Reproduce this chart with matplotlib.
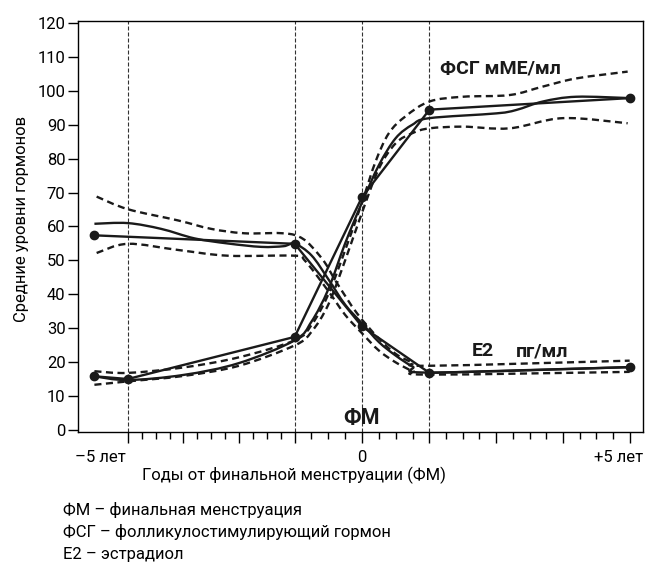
import numpy as np
import matplotlib
matplotlib.use('Agg')
import matplotlib.pyplot as plt
from matplotlib.path import Path
from matplotlib.patches import PathPatch
from matplotlib.transforms import ScaledTranslation

plt.rcParams['font.family'] = ['Roboto', 'DejaVu Sans']

# годы от ФМ; ось нелинейная, как в оригинале
knots_yr = [-10, -5, -2, 0, 2, 5, 10]
knots_pos = [-150.3, 127.7, 294.5, 361.7, 429.2, 629.3, 962.8]

def fwd(x):
    return np.interp(x, knots_yr, knots_pos)

def inv(p):
    return np.interp(p, knots_pos, knots_yr)

# ФСГ (мМЕ/мл)
fsh_pts_x = [-5.6, -5, -2, 0, 2, 5]
fsh_pts_y = [15.9, 15.1, 27.5, 68.6, 94.4, 97.8]
fsh_smooth_x = [-5.6, -5, -4, -3, -2, -1.5, -1, -0.5, 0, 0.5, 1, 1.5, 2, 3, 3.3, 3.7, 4.2, 5]
fsh_smooth_y = [15.9, 14.8, 16.3, 19.8, 26.5, 32, 41.5, 55, 67, 78, 86, 90, 91.9, 93.3, 94.3, 96.8, 98.2, 97.8]
fsh_hi_x = [-5.6, -5, -4, -3, -2, -1.5, -1, -0.5, 0, 0.4, 0.8, 1.3, 2, 2.5, 3.2, 3.7, 4.2, 4.97]
fsh_hi_y = [17.4, 16.9, 18.5, 21.5, 26.5, 31, 40, 53, 67, 79, 87.5, 92.5, 96.8, 98.2, 98.7, 101.2, 103.6, 105.6]
fsh_lo_x = [-5.6, -5, -4, -3, -2, -1.5, -1, -0.5, 0, 0.5, 1.0, 1.5, 2, 2.5, 3.2, 4.0, 4.97]
fsh_lo_y = [13.4, 14.4, 16, 19, 25, 29, 37, 50, 64, 77, 84.5, 87.5, 88.9, 89.4, 88.9, 91.9, 90.4]

# E2 (пг/мл)
e2_pts_x = [-5.6, -2, 0, 2, 5]
e2_pts_y = [57.4, 54.9, 30.6, 16.9, 18.6]
e2_smooth_x = [-5.6, -5, -4.4, -3.8, -3.2, -2.6, -2.2, -2, -1.5, -1, -0.5, 0, 0.5, 1, 1.5, 2, 5]
e2_smooth_y = [60.8, 61, 59.3, 56.5, 55.0, 54.0, 54.2, 54.9, 51.5, 44.5, 37, 31.5, 26, 22, 18.8, 17.0, 18.6]
e2_hi_x = [-5.56, -5, -4.1, -3.5, -2.9, -2, -1.24, -0.74, -0.15, 0.5, 1, 1.5, 2, 5]
e2_hi_y = [68.8, 65.1, 61.8, 59.3, 58, 57.5, 51.2, 43.3, 34.5, 27, 22.5, 20, 19.0, 20.5]
e2_lo_x = [-5.56, -5, -4.1, -3.2, -2, -1.7, -1, -0.5, 0, 0.5, 1, 1.5, 2, 5]
e2_lo_y = [52.2, 54.9, 53.1, 51.4, 51.4, 50, 41, 34, 28.6, 23.5, 20, 17.5, 16.4, 17.2]

vlines_x = [-5, -2, 0, 2]
yticks = list(range(0, 121, 10))
major_x = [-5, -4, -3, -2, 0, 2, 3, 4, 5]
minor_x = sorted(set(np.r_[np.arange(-5, -2, 0.25), np.arange(-2, 2, 0.5), np.arange(2, 5.01, 0.25)]) - set(major_x))
xtick_pos = [-5, 0, 5]
xtick_lbl = ['–5 лет', '0', '+5 лет']
xtick_shift = [-27, 0, -11]  # px

notes = ['ФМ – финальная менструация',
         'ФСГ – фолликулостимулирующий гормон',
         'E2 – эстрадиол']


def smooth_curve(ax, xs, ys, **kw):
    # сглаженная кривая (Catmull-Rom -> Безье) в координатах шкалы
    p = np.column_stack([fwd(np.asarray(xs, float)), np.asarray(ys, float)])
    ext = np.vstack([p[0], p, p[-1]])
    verts = [p[0]]
    codes = [Path.MOVETO]
    for i in range(len(p) - 1):
        p0, p1, p2, p3 = ext[i], ext[i + 1], ext[i + 2], ext[i + 3]
        verts += [p1 + (p2 - p0) / 6, p2 - (p3 - p1) / 6, p2]
        codes += [Path.CURVE4] * 3
    patch = PathPatch(Path(verts, codes), fill=False, transform=ax.transLimits + ax.transAxes, **kw)
    ax.add_patch(patch)


fig = plt.figure(figsize=(6.48, 5.79), dpi=100)
ax = fig.add_axes([78 / 648, 1 - 432 / 579, 565 / 648, 411 / 579])
ax.set_xscale('function', functions=(fwd, inv))
ax.set_xlim(-5.895, 5.2)
ax.set_ylim(-0.5, 120.5)

for xv in vlines_x:
    ax.axvline(xv, color='#333333', lw=0.8, dashes=(3.6, 1.8), zorder=1)

k = '#1a1a1a'
for xs, ys in [(fsh_hi_x, fsh_hi_y), (fsh_lo_x, fsh_lo_y), (e2_hi_x, e2_hi_y), (e2_lo_x, e2_lo_y)]:
    smooth_curve(ax, xs, ys, edgecolor=k, lw=1.7, linestyle=(0, (3.0, 1.9)))
for xs, ys in [(fsh_smooth_x, fsh_smooth_y), (e2_smooth_x, e2_smooth_y)]:
    smooth_curve(ax, xs, ys, edgecolor=k, lw=1.7)
for xs, ys in [(fsh_pts_x, fsh_pts_y), (e2_pts_x, e2_pts_y)]:
    ax.plot(xs, ys, color=k, lw=1.7, marker='o', ms=6)

ax.text(2.16, 105.1, 'ФСГ мМЕ/мл', fontsize=14, fontweight='bold', ha='left', va='baseline', color=k)
ax.text(2.64, 21.8, 'E2', fontsize=14, fontweight='bold', ha='left', va='baseline', color=k)
ax.text(3.29, 21.8, 'пг/мл', fontsize=14, fontweight='bold', ha='left', va='baseline', color=k)
ax.text(0, 1.9, 'ФМ', fontsize=15.5, fontweight='bold', ha='center', va='baseline', color=k)

ax.set_yticks(yticks)
ax.tick_params(axis='y', length=7, width=1, labelsize=12, pad=2)
ax.set_xticks(major_x)
ax.set_xticks(minor_x, minor=True)
ax.set_xticklabels(['' for _ in major_x])
ax.tick_params(axis='x', which='major', length=8, width=1)
ax.tick_params(axis='x', which='minor', length=5, width=1)
for xv, lbl, sh in zip(xtick_pos, xtick_lbl, xtick_shift):
    t = ax.text(xv, -0.045, lbl, transform=ax.get_xaxis_transform(), fontsize=12,
                ha='center', va='top')
    t.set_transform(t.get_transform() + ScaledTranslation(sh / 100, 0, fig.dpi_scale_trans))

for s in ax.spines.values():
    s.set_linewidth(1)

ax.set_ylabel('Средние уровни гормонов', fontsize=12)
ax.yaxis.set_label_coords(-0.0876, 0.518)
ax.set_xlabel('Годы от финальной менструации (ФМ)', fontsize=12)
ax.xaxis.set_label_coords(0.383, -0.085)
ax.xaxis.label.set_va('top')

for i, n in enumerate(notes):
    fig.text(63.3 / 648, [0.1105, 0.072, 0.034][i], n, fontsize=12, ha='left', va='baseline')

fig.savefig('out.png', dpi=100)
